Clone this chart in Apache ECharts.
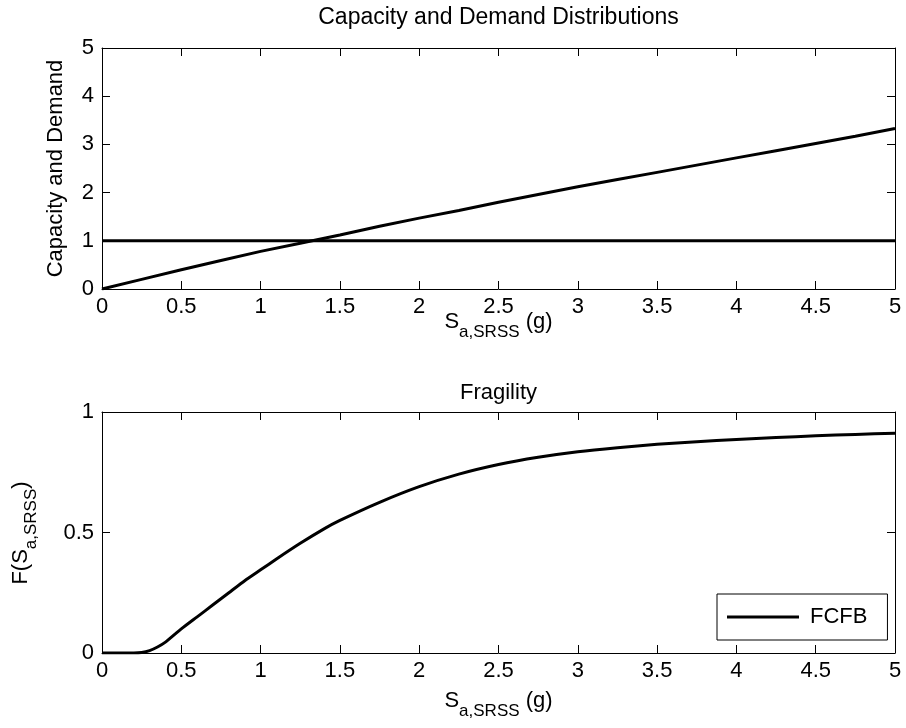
<!DOCTYPE html>
<html><head><meta charset="utf-8">
<script src="https://cdn.jsdelivr.net/npm/echarts@6/dist/echarts.min.js"></script>
<style>html,body{margin:0;padding:0;background:#fff}#c{width:906px;height:728px}</style>
</head><body><div id="c"></div>
<script>
// ---- data ----
const saValues = [0,0.25,0.5,0.75,1,1.25,1.5,1.75,2,2.25,2.5,2.75,3,3.25,3.5,3.75,4,4.25,4.5,4.75,5];
const demandValues = [0,0.2,0.4,0.59,0.78,0.95,1.12,1.3,1.47,1.63,1.8,1.96,2.12,2.27,2.42,2.57,2.72,2.87,3.02,3.17,3.33];
const capacityX = [0,5];
const capacityValues = [1,1];
const fragX = [0,0.1,0.2,0.25,0.3,0.35,0.4,0.5,0.6,0.7,0.8,0.9,1,1.1,1.25,1.4,1.5,1.75,2,2.25,2.5,2.75,3,3.25,3.5,3.75,4,4.25,4.5,4.75,5];
const fragValues = [0,0,0,0.002,0.01,0.025,0.045,0.1,0.15,0.2,0.25,0.3,0.345,0.39,0.455,0.515,0.55,0.625,0.69,0.742,0.782,0.812,0.835,0.852,0.866,0.877,0.886,0.894,0.901,0.907,0.912];
const topYTicks = {min:0,max:5,interval:1};
const botYTicks = {min:0,max:1,interval:0.5};
const xTicks = {min:0,max:5,interval:0.5};
const legendName = 'FCFB';

const FONT = 'Liberation Sans, Arial, Helvetica, sans-serif';
const FS = 22;
const SUB = 17;
const zip = (a,b)=>a.map((v,i)=>[v,b[i]]);
const chart = echarts.init(document.getElementById('c'), null, {renderer:'canvas'});

function xAx(grid, pos, labels){
  return {type:'value', gridIndex:grid, position:pos, min:xTicks.min, max:xTicks.max, interval:xTicks.interval,
    axisLine:{show:true, onZero:false, lineStyle:{color:'#000', width:1}},
    axisTick:{show:true, inside:true, length:8, lineStyle:{color:'#000'}},
    axisLabel:{show:labels, color:'#000', fontSize:FS, fontFamily:FONT, margin:7},
    splitLine:{show:false}};
}
function yAx(grid, pos, labels, t){
  return {type:'value', gridIndex:grid, position:pos, min:t.min, max:t.max, interval:t.interval,
    axisLine:{show:true, onZero:false, lineStyle:{color:'#000', width:1}},
    axisTick:{show:true, inside:true, length:8, lineStyle:{color:'#000'}},
    axisLabel:{show:labels, color:'#000', fontSize:FS, fontFamily:FONT, margin:8},
    splitLine:{show:false}};
}
const subRich = {
  s:{fontSize:FS, fontFamily:FONT, fill:'#000', lineHeight:24, verticalAlign:'top'},
  b:{fontSize:SUB, fontFamily:FONT, fill:'#000', lineHeight:30, verticalAlign:'bottom'}
};
function txt(x,y,text,opts){
  return {type:'text', x:x, y:y, style:Object.assign({text:text, fontSize:FS, fontFamily:FONT, fill:'#000',
    align:'center', verticalAlign:'middle', textAlign:'center', textVerticalAlign:'middle'}, opts||{})};
}
const option = {
  backgroundColor:'#fff',
  animation:false,
  grid:[{left:102, top:48, width:793, height:241},{left:102, top:412, width:793, height:241}],
  xAxis:[xAx(0,'bottom',true), xAx(0,'top',false), xAx(1,'bottom',true), xAx(1,'top',false)],
  yAxis:[yAx(0,'left',true,topYTicks), yAx(0,'right',false,topYTicks), yAx(1,'left',true,botYTicks), yAx(1,'right',false,botYTicks)],
  legend:{data:[legendName], left:717, top:594, orient:'vertical', backgroundColor:'#fff', borderColor:'#000', borderWidth:1,
    padding:[12,20,12,10], itemWidth:72, itemHeight:3, icon:'rect', itemGap:0,
    textStyle:{color:'#000', fontSize:FS, fontFamily:FONT, padding:[0,0,0,6]}},
  series:[
    {type:'line', name:'Demand', xAxisIndex:0, yAxisIndex:0, data:zip(saValues,demandValues), showSymbol:false, symbol:'none',
      lineStyle:{color:'#000', width:3}, itemStyle:{color:'#000'}},
    {type:'line', name:'Capacity', xAxisIndex:0, yAxisIndex:0, data:zip(capacityX,capacityValues), showSymbol:false, symbol:'none',
      lineStyle:{color:'#000', width:3}, itemStyle:{color:'#000'}},
    {type:'line', name:legendName, xAxisIndex:2, yAxisIndex:2, data:zip(fragX,fragValues), showSymbol:false, symbol:'none',
      smooth:0.2, lineStyle:{color:'#000', width:3}, itemStyle:{color:'#000'}}
  ],
  graphic:[
    txt(498.5, 18, 'Capacity and Demand Distributions', {fontSize:23}),
    txt(498.5, 393, 'Fragility'),
    Object.assign(txt(56, 168.5, 'Capacity and Demand'), {rotation:Math.PI/2}),
    txt(498.5, 311, '{s|S}{b|a,SRSS}{s| (g)}', {rich:subRich, verticalAlign:'top', textVerticalAlign:'top'}),
    txt(498.5, 690, '{s|S}{b|a,SRSS}{s| (g)}', {rich:subRich, verticalAlign:'top', textVerticalAlign:'top'}),
    Object.assign(txt(25, 533, '{s|F(S}{b|a,SRSS}{s|)}', {rich:subRich}), {rotation:Math.PI/2})
  ]
};
chart.setOption(option);
</script></body></html>
